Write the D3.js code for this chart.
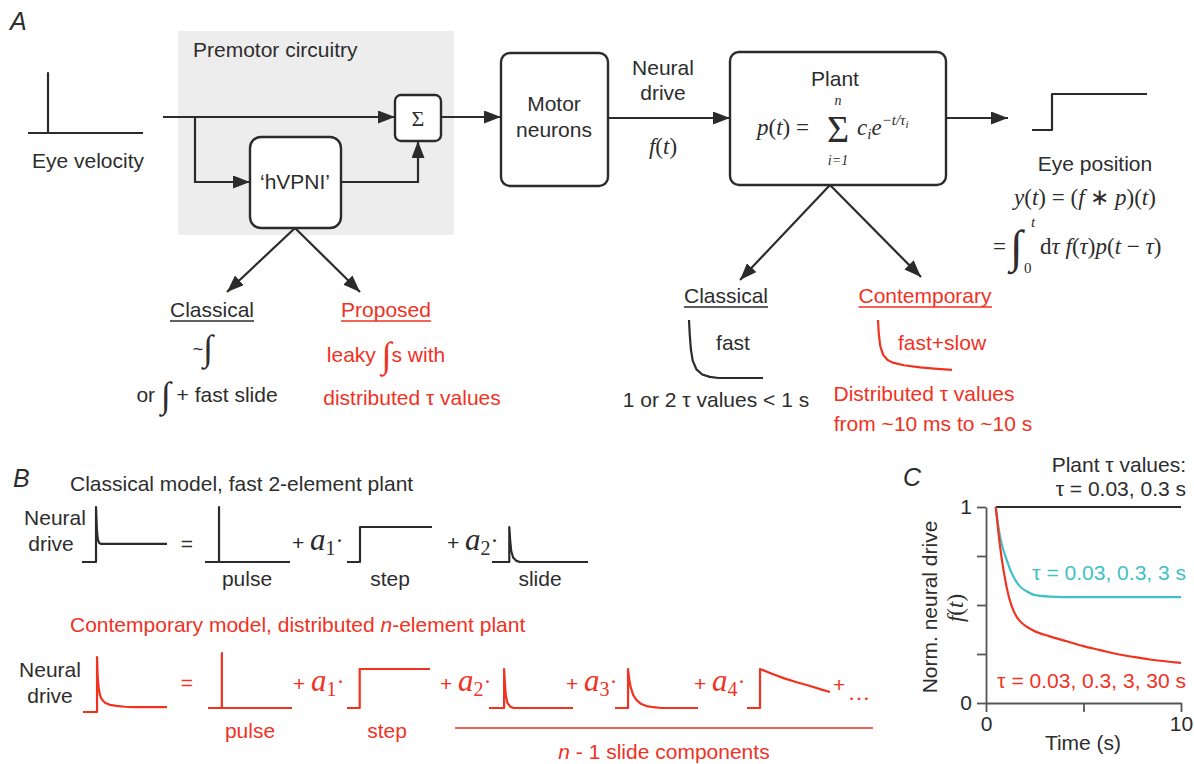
<!DOCTYPE html>
<html>
<head>
<meta charset="utf-8">
<script src="https://cdn.jsdelivr.net/npm/d3@7"></script>
<style>
  body { margin: 0; background: #fff; }
  text { font-family: "Liberation Sans", Arial, Helvetica, sans-serif; font-size: 21px; fill: #2d2d2d; }
  .serif { font-family: "Liberation Serif", "Times New Roman", serif; }
</style>
</head>
<body>
<svg id="fig" width="1194" height="764"></svg>
<script>
// ---- panel C: normalised neural drive vs time ----
const timeBlack = [0.5, 10];
const driveBlack = [1, 1];
const timeCyan = [0.5, 0.72, 1.06, 1.4, 1.74, 2.08, 2.43, 3.28, 4.5, 10];
const driveCyan = [1, 0.85, 0.73, 0.645, 0.595, 0.57, 0.553, 0.543, 0.54, 0.54];
const timeRed = [0.5, 0.72, 1.06, 1.57, 2.43, 3.28, 4.14, 4.99, 5.85, 6.7, 7.56, 8.4, 10];
const driveRed = [1, 0.8, 0.59, 0.44, 0.37, 0.34, 0.315, 0.29, 0.27, 0.25, 0.235, 0.222, 0.205];
const yTicks = [0, 0.25, 0.5, 0.75, 1];
const xTicks = [0, 5, 10];
const tauLabels = ["τ = 0.03, 0.3 s", "τ = 0.03, 0.3, 3 s", "τ = 0.03, 0.3, 3, 30 s"];

// ---- schematic trace shapes, normalised [x, y] in 0..1 ----
const velocityPulse = [[0, 0], [0.174, 0], [0.174, 1], [0.174, 0], [1, 0]];
const positionStep = [[0, 0], [0.174, 0], [0.174, 1], [1, 1]];
const plantFast = [[0, 1], [0.01, 0.75], [0.025, 0.5], [0.05, 0.3], [0.1, 0.15], [0.18, 0.06], [0.28, 0.02], [0.4, 0], [1, 0]];
const plantSlow = [[0, 1], [0.01, 0.75], [0.03, 0.5], [0.07, 0.33], [0.13, 0.23], [0.2, 0.18], [0.35, 0.13], [0.57, 0.09], [0.8, 0.06], [1, 0.04]];
const driveClassical = [[0, 0], [0.165, 0], [0.165, 1], [0.175, 0.6], [0.185, 0.42], [0.2, 0.35], [0.22, 0.33], [1, 0.33]];
const driveContemporary = [[0, 0], [0.167, 0], [0.167, 1], [0.175, 0.65], [0.185, 0.45], [0.2, 0.32], [0.22, 0.24], [0.26, 0.17], [0.32, 0.13], [0.4, 0.11], [0.5, 0.095], [0.6, 0.09], [1, 0.09]];
const pulseShape = [[0, 0], [0.165, 0], [0.165, 1], [0.165, 0], [1, 0]];
const stepShape = [[0, 0], [0.153, 0], [0.153, 1], [1, 1]];
const slideFast = [[0, 0], [0.18, 0], [0.18, 1], [0.19, 0.6], [0.2, 0.32], [0.22, 0.13], [0.25, 0.04], [0.29, 0], [1, 0]];
const slideMid = [[0, 0], [0.157, 0], [0.157, 1], [0.17, 0.75], [0.19, 0.52], [0.22, 0.33], [0.26, 0.2], [0.31, 0.11], [0.38, 0.05], [0.46, 0.02], [0.56, 0], [1, 0]];
const slideSlow = [[0, 0], [0.157, 0], [0.157, 1], [0.3, 0.88], [0.45, 0.76], [0.6, 0.66], [0.75, 0.57], [0.9, 0.47], [1, 0.41]];

const dark = "#2b2b2b", red = "#f2311f", cyan = "#3ec1c6";
const M = 23; // maths font size

const svg = d3.select("#fig");
svg.append("rect").attr("width", 1194).attr("height", 764).attr("fill", "#fff");

svg.append("defs").append("marker")
  .attr("id", "arr")
  .attr("markerUnits", "userSpaceOnUse")
  .attr("markerWidth", 18).attr("markerHeight", 13)
  .attr("refX", 17).attr("refY", 6.5)
  .attr("orient", "auto")
  .append("path").attr("d", "M0,0 L17,6.5 L0,13 z").attr("fill", dark);

function txt(x, y, s, o = {}) {
  const t = svg.append("text").attr("x", x).attr("y", y)
    .attr("text-anchor", o.anchor || "middle").text(s);
  if (o.fill) t.style("fill", o.fill);
  if (o.size) t.style("font-size", o.size + "px");
  if (o.italic) t.style("font-style", "italic");
  if (o.cls) t.attr("class", o.cls);
  return t;
}

function rich(x, y, parts, o = {}) {
  const t = svg.append("text").attr("x", x).attr("y", y)
    .attr("text-anchor", o.anchor || "start");
  if (o.fill) t.style("fill", o.fill);
  parts.forEach(p => {
    const s = t.append("tspan").text(p.t);
    if (p.cls) s.attr("class", p.cls);
    if (p.it) s.style("font-style", "italic");
    if (p.size) s.style("font-size", p.size + "px");
    if (p.dy) s.attr("dy", p.dy);
  });
  return t;
}

// maths helpers: v = italic variable, r = roman symbol
const v = (t, size = M, dy) => ({ t, cls: "serif", it: 1, size, dy });
const r = (t, size = M, dy) => ({ t, cls: "serif", size, dy });
const intg = (dy) => ({ t: "∫", cls: "serif", size: 36, dy });

function underline(t, color) {
  const b = t.node().getBBox();
  svg.append("line").attr("x1", b.x).attr("x2", b.x + b.width)
    .attr("y1", +t.attr("y") + 4).attr("y2", +t.attr("y") + 4)
    .attr("stroke", color).attr("stroke-width", 1.5);
}

function arrow(pts) {
  svg.append("path").attr("d", d3.line()(pts)).attr("fill", "none")
    .attr("stroke", dark).attr("stroke-width", 2.2).attr("marker-end", "url(#arr)");
}

function box(x, y, w, h, rad) {
  svg.append("rect").attr("x", x).attr("y", y).attr("width", w).attr("height", h)
    .attr("rx", rad).attr("fill", "#fff").attr("stroke", dark).attr("stroke-width", 2.4);
}

function trace(shape, x0, x1, yb, yt, color) {
  const sx = d3.scaleLinear().domain([0, 1]).range([x0, x1]);
  const sy = d3.scaleLinear().domain([0, 1]).range([yb, yt]);
  svg.append("path")
    .attr("d", d3.line().x(d => sx(d[0])).y(d => sy(d[1]))(shape))
    .attr("fill", "none").attr("stroke", color).attr("stroke-width", 2.2)
    .attr("stroke-linejoin", "round");
}

// =================== Panel A ===================
txt(10, 30, "A", { anchor: "start", size: 25, italic: true });
svg.append("rect").attr("x", 178).attr("y", 31).attr("width", 276).attr("height", 204).attr("fill", "#ededed");
txt(193, 57, "Premotor circuitry", { anchor: "start" });

trace(velocityPulse, 28, 143, 133, 73, dark);
txt(88, 168, "Eye velocity");

arrow([[163, 117], [395, 117]]);
arrow([[195, 117], [195, 182], [250, 182]]);
box(250, 137, 91, 91, 11);
txt(295, 189, "‘hVPNI’");
arrow([[341, 182], [418, 182], [418, 141]]);
box(395, 95, 46, 46, 6);
txt(418, 126, "Σ", { size: 22, cls: "serif" });
arrow([[441, 117], [501, 117]]);

box(501, 53, 107, 133, 9);
txt(554, 111, "Motor");
txt(554, 137, "neurons");

arrow([[608, 118], [730, 118]]);
txt(663, 75, "Neural");
txt(663, 100, "drive");
rich(663, 154, [v("f"), r("("), v("t"), r(")")], { anchor: "middle" });

box(730, 52, 216, 133, 9);
txt(835, 86, "Plant");
rich(757, 135, [v("p"), r("("), v("t"), r(") =")]);
txt(838, 142, "Σ", { size: 38, cls: "serif" });
txt(838, 105, "n", { size: 14, italic: true, cls: "serif" });
txt(838, 165, "i=1", { size: 14, italic: true, cls: "serif" });
rich(857, 135, [
  v("c"), v("i", 15, 4),
  v("e", M, -4),
  v("−t/τ", 15, -10),
  v("i", 11, 3)
]);

arrow([[946, 118], [1008, 118]]);
trace(positionStep, 1032, 1147, 130, 94, dark);
txt(1095, 171, "Eye position");
rich(1085, 205, [
  v("y"), r("("), v("t"), r(") = ("), v("f"), r(" ∗ "), v("p"), r(")("), v("t"), r(")")
], { anchor: "middle" });
txt(993, 254, "=", { anchor: "start", size: M, cls: "serif" });
txt(1010, 262, "∫", { anchor: "start", size: 46, italic: true, cls: "serif" });
txt(1031, 227, "t", { anchor: "start", size: 15, italic: true, cls: "serif" });
txt(1024, 273, "0", { anchor: "start", size: 15, cls: "serif" });
rich(1040, 254, [
  r("d"), v("τ"), v(" f"), r("("), v("τ"), r(")"), v("p"), r("("), v("t"), r(" − "), v("τ"), r(")")
]);

// branches from hVPNI
arrow([[295, 228], [227, 292]]);
arrow([[295, 228], [360, 292]]);
underline(txt(212, 317, "Classical"), dark);
underline(txt(386, 317, "Proposed", { fill: red }), red);
rich(203, 360, [{ t: "~", size: 18, dy: -5 }, intg(5)], { anchor: "middle" });
rich(207, 402, [{ t: "or " }, intg(5), { t: " + fast slide", dy: -5 }], { anchor: "middle" });
rich(386, 362, [{ t: "leaky " }, intg(5), { t: "s with", dy: -5 }], { anchor: "middle", fill: red });
txt(412, 405, "distributed τ values", { fill: red });

// branches from plant
arrow([[830, 185], [740, 280]]);
arrow([[830, 185], [921, 277]]);
underline(txt(726, 303, "Classical"), dark);
trace(plantFast, 689, 763, 378, 320, dark);
txt(733, 350, "fast");
txt(716, 407, "1 or 2 τ values < 1 s");
underline(txt(925, 303, "Contemporary", { fill: red }), red);
trace(plantSlow, 878, 952, 372, 320, red);
txt(942, 350, "fast+slow", { fill: red });
txt(924, 401, "Distributed τ values", { fill: red });
txt(933, 431, "from ~10 ms to ~10 s", { fill: red });

// =================== Panel B ===================
txt(13, 487, "B", { anchor: "start", size: 25, italic: true });
txt(70, 491, "Classical model, fast 2-element plant", { anchor: "start" });

function term(x, y, k, color) {
  rich(x, y, [
    { t: "+ " },
    v("a", 31),
    r(k, 20, 5),
    r("·", 24, -7)
  ], { fill: color });
}

txt(55, 525, "Neural");
txt(51, 551, "drive");
trace(driveClassical, 82, 167, 562, 507, dark);
txt(187, 551, "=");
trace(pulseShape, 205, 290, 562, 507, dark);
txt(247, 586, "pulse");
term(292, 550, "1", dark);
trace(stepShape, 347, 432, 562, 527, dark);
txt(390, 586, "step");
term(447, 550, "2", dark);
trace(slideFast, 492, 588, 562, 527, dark);
txt(540, 586, "slide");

rich(70, 632, [{ t: "Contemporary model, distributed " }, { t: "n", it: 1 }, { t: "-element plant" }], { fill: red });
txt(50, 677, "Neural");
txt(50, 703, "drive");
trace(driveContemporary, 83, 167, 712, 657, red);
txt(187, 690, "=", { fill: red });
trace(pulseShape, 208, 292, 708, 653, red);
txt(250, 738, "pulse", { fill: red });
term(293, 691, "1", red);
trace(stepShape, 347, 430, 708, 669, red);
txt(387, 738, "step", { fill: red });
term(440, 691, "2", red);
trace(slideFast, 489, 573, 708, 669, red);
term(566, 691, "3", red);
trace(slideMid, 615, 698, 708, 669, red);
term(694, 691, "4", red);
trace(slideSlow, 747, 830, 708, 669, red);
txt(833, 692, "+", { anchor: "start", fill: red });
txt(848, 700, "…", { anchor: "start", fill: red, size: 22, cls: "serif" });
svg.append("line").attr("x1", 455).attr("x2", 873).attr("y1", 728).attr("y2", 728)
  .attr("stroke", red).attr("stroke-width", 1.6);
rich(664, 759, [{ t: "n", it: 1 }, { t: " - 1 slide components" }], { anchor: "middle", fill: red });

// =================== Panel C ===================
txt(903, 486, "C", { anchor: "start", size: 25, italic: true });
const xC = d3.scaleLinear().domain([0, 10]).range([986, 1181]);
const yC = d3.scaleLinear().domain([0, 1]).range([703, 507]);

const gy = svg.append("g").attr("transform", "translate(986,0)")
  .call(d3.axisLeft(yC).tickValues(yTicks).tickSize(9).tickSizeOuter(0).tickPadding(5)
    .tickFormat(d => (d === 0 || d === 1) ? d : ""));
const gx = svg.append("g").attr("transform", "translate(0,703)")
  .call(d3.axisBottom(xC).tickValues(xTicks).tickSize(9).tickSizeOuter(0).tickPadding(4)
    .tickFormat(d => (d === 0 || d === 10) ? d : ""));
[gy, gx].forEach(g => {
  g.selectAll("path, line").attr("stroke", "#555").attr("stroke-width", 1.8);
  g.selectAll("text").style("font-size", "21px").style("fill", dark)
    .style("font-family", "'Liberation Sans', Arial, sans-serif");
});

const lineC = d3.line().x(d => xC(d[0])).y(d => yC(d[1])).curve(d3.curveMonotoneX);
[[timeBlack, driveBlack, dark], [timeCyan, driveCyan, cyan], [timeRed, driveRed, red]].forEach(([t, val, c]) => {
  svg.append("path").attr("d", lineC(t.map((d, i) => [d, val[i]])))
    .attr("fill", "none").attr("stroke", c).attr("stroke-width", 2.2);
});

txt(1186, 472, "Plant τ values:", { anchor: "end" });
txt(1186, 496, tauLabels[0], { anchor: "end" });
txt(1186, 580, tauLabels[1], { anchor: "end", fill: cyan });
txt(1186, 688, tauLabels[2], { anchor: "end", fill: red });

txt(1083, 750, "Time (s)");
txt(0, 0, "Norm. neural drive").attr("transform", "translate(937,607) rotate(-90)");
rich(0, 0, [v("f"), r("("), v("t"), r(")")], { anchor: "middle" })
  .attr("transform", "translate(963,608) rotate(-90)");
</script>
</body>
</html>
